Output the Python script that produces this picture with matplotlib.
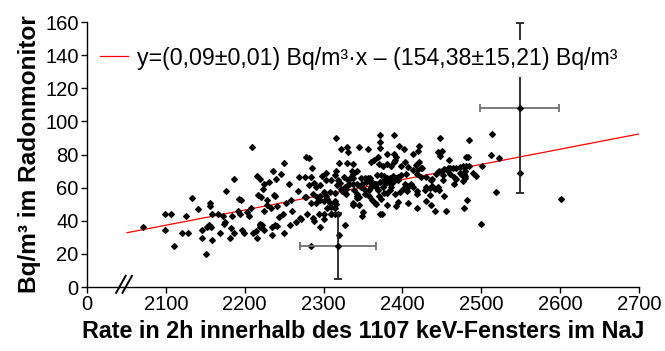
import matplotlib
matplotlib.use("Agg")
import matplotlib.pyplot as plt

plt.rcParams["font.family"] = ["Liberation Sans", "DejaVu Sans"]

# scatter values (rate, Bq/m3)
rate = [
    2071, 2099, 2106, 2099, 2110, 2120, 2128, 2125, 2133, 2141, 2146, 2146, 2151, 2152, 2155, 2156, 2156, 2157, 2158, 2159, 2166,
    2209, 2250, 2186, 2215, 2220, 2236, 2240, 2246, 2256, 2231, 2225, 2223, 2176, 2193, 2195, 2217, 2221, 2228, 2237, 2239,
    2234, 2241, 2252, 2225, 2228, 2172, 2184, 2192, 2194, 2203, 2206, 2208, 2175, 2174, 2183, 2196, 2199, 2169, 2186, 2181,
    2210, 2214, 2215, 2219, 2220, 2222, 2219, 2224, 2235, 2239, 2241, 2235, 2243, 2248, 2250,
    2316, 2322, 2330, 2331, 2278, 2281, 2285, 2320, 2330, 2269, 2276, 2284, 2281, 2288, 2290, 2295, 2298, 2303, 2303, 2310,
    2314, 2316, 2318, 2317, 2321, 2326, 2331, 2327, 2328, 2331, 2324, 2327, 2329, 2267, 2276, 2278, 2287, 2292, 2296, 2301,
    2303, 2308, 2315, 2322, 2259, 2284, 2290, 2296, 2301, 2305, 2308, 2310, 2314, 2316, 2315, 2260, 2270, 2279, 2287, 2288,
    2294, 2300, 2300, 2304, 2309, 2310, 2314, 2318, 2258, 2265, 2272, 2296, 2327, 2320, 2284,
    2372, 2390, 2371, 2345, 2356, 2372, 2396, 2402, 2381, 2390, 2392, 2391, 2369, 2364, 2338, 2360, 2370, 2375, 2380, 2386,
    2389, 2398, 2403, 2407, 2336, 2343, 2337, 2352, 2356, 2359, 2333, 2338, 2348, 2368, 2373, 2377, 2381, 2384, 2388, 2392,
    2395, 2398, 2405, 2332, 2337, 2343, 2349, 2354, 2359, 2362, 2365, 2367, 2372, 2375, 2379, 2381, 2386, 2390, 2394, 2403,
    2406, 2339, 2346, 2348, 2353, 2358, 2360, 2366, 2369, 2375, 2386, 2342, 2343, 2345, 2342, 2358, 2353, 2370, 2377, 2380,
    2384, 2391, 2397, 2401, 2406, 2337, 2338, 2345, 2362, 2365, 2367, 2373, 2381, 2392, 2394, 2407, 2350, 2349, 2372, 2374,
    2448, 2484, 2421, 2420, 2445, 2450, 2448, 2459, 2481, 2413, 2417, 2421, 2413, 2419, 2424, 2425, 2418, 2424, 2430, 2436,
    2438, 2445, 2447, 2450, 2453, 2456, 2458, 2461, 2464, 2468, 2473, 2477, 2481, 2484, 2443, 2452, 2452, 2460, 2466, 2468,
    2473, 2476, 2478, 2477, 2480, 2465, 2408, 2411, 2413, 2418, 2418, 2429, 2430, 2435, 2437, 2441, 2445, 2447, 2435, 2453,
    2418, 2430, 2436, 2442, 2455, 2478, 2482,
    2514, 2483, 2512, 2523, 2501, 2479, 2480, 2489, 2493, 2549, 2519, 2601, 2500,
]
radon = [
    36.2, 44.3, 44.3, 34.4, 24.9, 32.8, 32.8, 43.1, 53.9, 47.3, 34.2, 29.6, 20.1, 36.2, 37.6, 49.1, 50.9, 36.2, 28.2, 43.9, 44.3,
    84.7, 75.1, 65.0, 67.0, 65.4, 70.2, 65.4, 68.2, 62.2, 63.4, 62.2, 59.0, 58.2, 53.3, 52.5, 55.4, 54.2, 52.5, 55.7, 55.0,
    47.7, 48.9, 50.5, 45.7, 49.3, 43.1, 43.1, 45.9, 44.3, 45.5, 42.7, 47.5, 39.1, 37.9, 35.6, 34.4, 32.8, 32.8, 32.8, 29.6,
    32.8, 33.8, 29.6, 37.3, 38.2, 37.3, 36.2, 34.4, 36.2, 37.6, 37.0, 31.4, 42.5, 44.1, 32.8,
    90.2, 83.3, 84.5, 81.7, 78.5, 77.7, 72.0, 75.1, 75.1, 66.2, 66.2, 66.2, 61.4, 62.6, 60.6, 61.4, 67.0, 68.7, 64.6, 64.6,
    67.8, 70.2, 64.6, 61.8, 62.6, 66.2, 64.6, 60.6, 59.0, 61.4, 57.8, 56.6, 56.2, 58.2, 54.5, 54.5, 56.2, 54.5, 55.0, 57.4,
    55.0, 57.4, 56.9, 59.0, 52.5, 50.5, 50.5, 52.5, 51.7, 53.3, 50.9, 48.5, 51.7, 50.1, 47.7, 45.9, 41.8, 44.3, 41.7, 40.0,
    43.9, 43.9, 41.1, 47.5, 44.1, 44.1, 44.1, 44.1, 37.4, 39.1, 41.1, 36.2, 37.4, 31.4, 24.9,
    91.8, 91.8, 87.7, 84.5, 83.3, 83.7, 85.3, 83.3, 80.1, 80.1, 78.5, 76.9, 78.5, 76.9, 74.1, 75.3, 74.5, 72.9, 74.1, 72.9,
    75.3, 72.9, 75.7, 72.5, 70.0, 70.0, 68.4, 66.0, 66.0, 66.0, 65.6, 65.6, 66.0, 67.6, 67.6, 67.2, 66.0, 66.0, 67.2, 65.6,
    66.4, 67.6, 68.4, 62.0, 62.0, 62.4, 62.4, 63.2, 63.2, 63.6, 62.0, 62.4, 63.6, 64.0, 62.8, 63.6, 62.0, 64.0, 64.4, 62.4,
    61.2, 58.4, 61.2, 60.4, 58.4, 58.4, 60.4, 60.4, 58.4, 60.4, 60.4, 56.4, 55.1, 54.3, 53.5, 55.1, 56.4, 54.8, 56.8, 56.8,
    58.4, 56.4, 57.6, 59.2, 58.0, 50.7, 49.5, 49.5, 52.4, 50.7, 50.3, 53.1, 49.5, 49.1, 51.1, 50.7, 45.5, 43.1, 44.3, 43.9,
    89.8, 89.0, 85.3, 82.1, 81.3, 82.1, 78.9, 76.9, 78.5, 80.1, 73.7, 75.7, 70.5, 70.5, 71.7, 72.0, 68.0, 66.4, 66.4, 64.4,
    65.2, 69.6, 70.0, 70.0, 71.3, 70.8, 72.0, 71.7, 72.0, 72.0, 72.5, 73.2, 73.2, 72.9, 68.4, 67.6, 64.8, 68.4, 66.4, 65.2,
    68.8, 67.6, 68.4, 64.0, 66.0, 62.0, 60.8, 62.0, 60.4, 58.0, 56.4, 58.8, 60.4, 59.6, 60.8, 59.2, 60.4, 58.8, 55.6, 55.1,
    47.9, 51.9, 49.5, 45.9, 45.9, 47.5, 52.7,
    92.4, 78.7, 79.9, 77.7, 73.1, 69.9, 67.0, 68.7, 67.0, 68.7, 57.4, 53.3, 37.9,
]

# points with error bars
err_x = [2318, 2549]
err_y = [24.9, 108.2]
err_dx = [48, 50]
err_dy = [19.8, 51.2]

# fitted line (end points as drawn)
fit_x = [2051, 2700]
fit_y = [32.8, 92.4]
fit_label = "y=(0,09\u00b10,01) Bq/m\u00b3\u00b7x \u2013 (154,38\u00b115,21) Bq/m\u00b3"

x_ticks = [2000, 2100, 2200, 2300, 2400, 2500, 2600, 2700]
x_labels = ["0", "2100", "2200", "2300", "2400", "2500", "2600", "2700"]
y_ticks = [0, 20, 40, 60, 80, 100, 120, 140, 160]

fig = plt.figure(figsize=(6.65, 3.51), dpi=100)
ax = fig.add_axes([0.1308, 0.1823, 0.830, 0.755])

ax.plot(fit_x, fit_y, color="#ff0000", lw=0.9, label=fit_label, zorder=2)
ax.plot(rate, radon, "D", ms=2.9, color="black", linestyle="none", zorder=3)

ax.errorbar(err_x, err_y, xerr=err_dx, fmt="none", ecolor="#707070",
            elinewidth=1.3, capsize=3, capthick=1.3, zorder=4)
ax.errorbar(err_x, err_y, yerr=err_dy, fmt="D", ms=2.9, color="black",
            ecolor="#222222", elinewidth=1.3, capsize=3, capthick=1.3, zorder=4)

ax.set_xlim(2000, 2700)
ax.set_ylim(0, 160)
ax.set_xticks(x_ticks)
ax.set_xticklabels(x_labels)
ax.set_yticks(y_ticks)
ax.tick_params(direction="out", length=4, width=1, labelsize=14.5, pad=2)

for s in ["top", "right"]:
    ax.spines[s].set_visible(False)
for s in ["left", "bottom"]:
    ax.spines[s].set_linewidth(1)

# axis break marks
tr = ax.get_xaxis_transform()
ax.plot([2037, 2049], [-0.022, 0.042], color="black", lw=1.4, transform=tr, clip_on=False)
ax.plot([2045, 2057], [-0.022, 0.042], color="black", lw=1.4, transform=tr, clip_on=False)

ax.set_xlabel("Rate in 2h innerhalb des 1107 keV-Fensters im NaJ", fontsize=16.8,
              fontweight="bold", labelpad=4)
ax.set_ylabel("Bq/m\u00b3 im Radonmonitor", fontsize=17.6, fontweight="bold", labelpad=3)

# white legend box hides the error bar behind the text, as in the original
leg = ax.legend(loc="center left", bbox_to_anchor=(0.011, 0.864), frameon=True,
                facecolor="white", edgecolor="none", framealpha=1, fancybox=False,
                fontsize=16.7, handlelength=1.2, handletextpad=0.4, borderpad=0.3,
                borderaxespad=0)
leg.set_zorder(5)

fig.savefig("out.png", dpi=100)
